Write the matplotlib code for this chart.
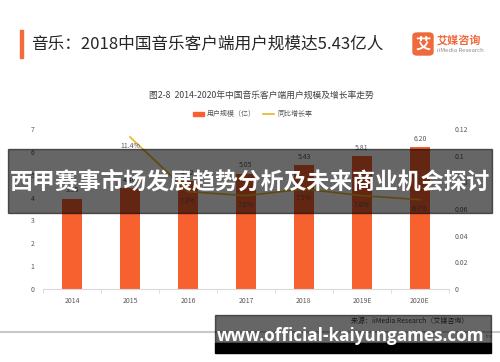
import numpy as np
import matplotlib.pyplot as plt
from matplotlib.patches import Rectangle, FancyBboxPatch
from matplotlib.lines import Line2D

plt.rcParams['font.family'] = ['Noto Sans CJK SC', 'DejaVu Sans']

# données
annees = ['2014', '2015', '2016', '2017', '2018', '2019E', '2020E']
utilisateurs = [3.95, 4.40, 4.72, 5.05, 5.43, 5.81, 6.20]
croissance = [0.114, 0.073, 0.070, 0.075, 0.070, 0.067]   # à partir de 2015
yticks_droite = [0, 0.02, 0.04, 0.06, 0.08, 0.1, 0.12]
yticks_droite_txt = ['0', '0.02', '0.04', '0.06', '0.08', '0.1', '0.12']

orange = '#F7612F'
jaune = '#E8B52A'
gris = '#595959'

W, H = 500, 362
fig = plt.figure(figsize=(5, 3.62), dpi=100)

def fx(x):
    return x / W

def fy(y):
    return 1 - y / H

ax = fig.add_axes([fx(43), fy(289), fx(449) - fx(43), fy(129) - fy(289)])
x = np.arange(len(annees))
barres = ax.bar(x, utilisateurs, width=0.33, color=orange, zorder=2)
for xi, v in zip(x, utilisateurs):
    ax.annotate(f"{v:.2f}", (xi, v), xytext=(0, 6), textcoords='offset points',
                ha='center', va='center', fontsize=5, color=gris)
ax.set_xlim(-0.5, len(annees) - 0.5)
ax.set_ylim(0, 7)
ax.set_yticks(range(8))
ax.set_xticks(x)
ax.set_xticklabels(annees)
ax.set_xticks(np.arange(-0.5, len(annees)), minor=True)
ax.tick_params(axis='x', which='major', length=0, labelsize=5, colors=gris, pad=6)
ax.tick_params(axis='x', which='minor', length=3, color='#d9d9d9')
ax.tick_params(axis='y', length=0, labelsize=5, colors=gris, pad=6)
for s in ['top', 'right', 'left']:
    ax.spines[s].set_visible(False)
ax.spines['bottom'].set_color('#d9d9d9')

ax2 = ax.twinx()
ax2.plot(x[1:], croissance, color=jaune, lw=1.2, zorder=3)
for xi, g in zip(x[1:], croissance):
    ax2.annotate(f"{g * 100:.1f}%", (xi, g), xytext=(0, -6.5), textcoords='offset points',
                 ha='center', va='center', fontsize=5, color=gris)
ax2.set_ylim(0, 0.12)
ax2.set_yticks(yticks_droite)
ax2.set_yticklabels(yticks_droite_txt)
ax2.tick_params(axis='y', length=0, labelsize=5, colors=gris, pad=4)
for s in ['top', 'right', 'left', 'bottom']:
    ax2.spines[s].set_visible(False)

# titre principal
fig.add_artist(Rectangle((fx(20), fy(58)), fx(3), fy(30) - fy(58), color='#F26B3A',
                         transform=fig.transFigure))
fig.text(fx(31), fy(44), "音乐：2018中国音乐客户端用户规模达5.43亿人", fontsize=12,
         color='#262626', va='center', ha='left')

# logo
fig.add_artist(FancyBboxPatch((fx(413), fy(55)), fx(20), fy(33) - fy(55),
                              boxstyle='round,pad=0,rounding_size=0.008',
                              color='#EE6A3C', transform=fig.transFigure))
fig.text(fx(423), fy(44), "艾", fontsize=11, color='white', ha='center', va='center',
         fontweight='bold')
fig.text(fx(437), fy(40), "艾媒咨询", fontsize=8, color='#EE6A3C', ha='left', va='center',
         fontweight='bold')
fig.text(fx(437), fy(51), "iiMedia Research", fontsize=4.3, color='#8c8c8c', ha='left',
         va='center')

# sous-titre et légende
fig.text(fx(261), fy(95), "图2-8  2014-2020年中国音乐客户端用户规模及增长率走势",
         fontsize=6.3, color='#404040', ha='center', va='center')
fig.add_artist(Rectangle((fx(193), fy(116)), fx(11), fy(112) - fy(116), color=orange,
                         transform=fig.transFigure))
fig.text(fx(207), fy(114), "用户规模（亿）", fontsize=5, color=gris, va='center')
fig.add_artist(Line2D([fx(263), fx(274)], [fy(114), fy(114)], color=jaune, lw=1.2,
                      transform=fig.transFigure))
fig.text(fx(277), fy(114), "同比增长率", fontsize=5, color=gris, va='center')

# source et ligne du bas
fig.text(fx(468), fy(321), "来源：iiMedia Research（艾媒咨询）", fontsize=5, color='#404040',
         ha='right', va='center')
fig.add_artist(Line2D([0, 1], [fy(332), fy(332)], color='#c8c8c8', lw=1.5,
                      transform=fig.transFigure))
fig.text(fx(486), fy(336), "Inc", fontsize=4, color='#a0a0a0', va='center')

# bandeaux superposés
fig.add_artist(Rectangle((fx(8), fy(213)), fx(492) - fx(8), fy(149) - fy(213),
                         color='black', alpha=0.6, transform=fig.transFigure, zorder=10))
fig.text(fx(250), fy(182), "西甲赛事市场发展趋势分析及未来商业机会探讨", fontsize=16.5,
         color='white', fontweight='bold', ha='center', va='center', zorder=11)
fig.add_artist(Rectangle((fx(215), fy(343)), fx(491) - fx(215), fy(315) - fy(343),
                         color='black', alpha=0.6, transform=fig.transFigure, zorder=10))
fig.add_artist(Rectangle((fx(215), fy(353)), fx(491) - fx(215), fy(343) - fy(353),
                         color='black', transform=fig.transFigure, zorder=10))
fig.text(fx(351), fy(336), "www.official-kaiyungames.com", fontsize=12.3,
         family='Open Sans', color='white', fontweight='bold', ha='center', va='center',
         zorder=11)

fig.savefig('out.png', dpi=100)
